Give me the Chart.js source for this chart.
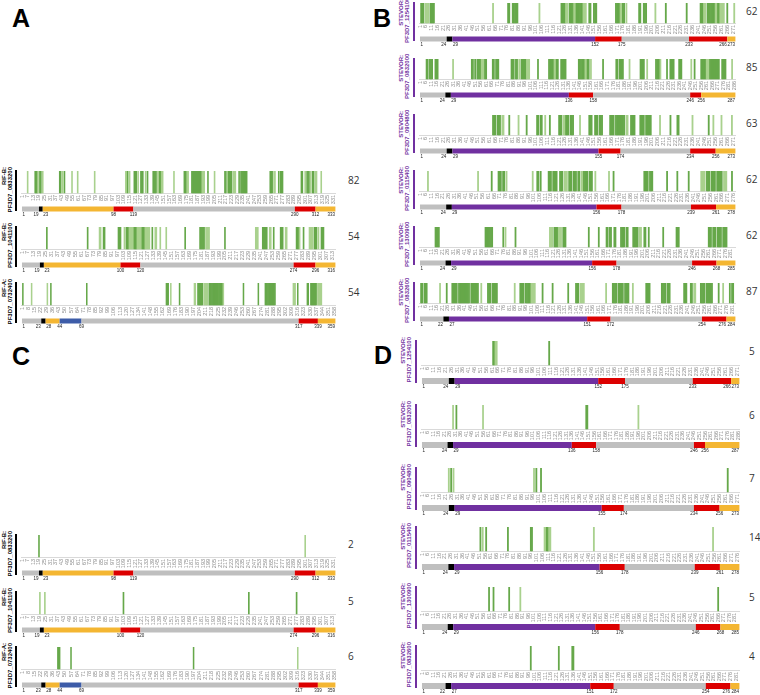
<!DOCTYPE html>
<html>
<head>
<meta charset="utf-8">
<script src="https://cdn.jsdelivr.net/npm/chart.js@4.4.1/dist/chart.umd.min.js"></script>
<style>
  body { margin: 0; width: 760px; height: 695px; position: relative; overflow: hidden; background: #fff; font-family: 'Liberation Sans', Arial, sans-serif; }
  .letter { position: absolute; font: bold 25px/25px 'Liberation Sans', Arial, sans-serif; color: #000; }
  .lab { position: absolute; transform-origin: 0 0; transform: rotate(-90deg); font-weight: bold; font-size: 6px; line-height: 6px; text-align: right; white-space: nowrap; }
  .vline { position: absolute; width: 2px; }
  .count { position: absolute; font: 10px/14px 'Open Sans', sans-serif; color: #333; }
  canvas { position: absolute; }
</style>
</head>
<body>
<div class="letter" style="left:12px;top:6px">A</div>
<div class="letter" style="left:373px;top:6px">B</div>
<div class="letter" style="left:12px;top:344px">C</div>
<div class="letter" style="left:374px;top:343px">D</div>
<script>
// RIFIN proteins (panels A and C)
const rifIds = ['PF3D7_0833200', 'PF3D7_1041100', 'PF3D7_0732400'];
const rifGroups = ['RIF-B:', 'RIF-B:', 'RIF-A:'];
const rifLengths = [333, 316, 359];
const rifTickSteps = [6, 6, 7];
const rifDomains = [
  [1, 19, 23, 98, 119, 290, 312, 333],
  [1, 19, 23, 100, 120, 274, 296, 316],
  [1, 23, 28, 44, 69, 317, 339, 359]
];
const rifDomainKinds = [
  ['none', 'pexel', 'sc', 'tm', 'none', 'tm', 'ct'],
  ['none', 'pexel', 'sc', 'tm', 'none', 'tm', 'ct'],
  ['none', 'pexel', 'sc', 'v1', 'none', 'tm', 'ct']
];

// STEVOR proteins (panels B and D)
const stevorIds = ['PF3D7_1254100', 'PF3D7_0832000', 'PF3D7_0904800', 'PF3D7_0115400', 'PF3D7_1300900', 'PF3D7_0832600'];
const stevorLengths = [273, 287, 273, 278, 285, 284];
const stevorTickStep = 5;
const stevorDomains = [
  [1, 24, 29, 152, 175, 233, 266, 273],
  [1, 24, 29, 136, 158, 246, 256, 287],
  [1, 24, 29, 155, 174, 234, 256, 273],
  [1, 24, 29, 156, 178, 239, 261, 278],
  [1, 24, 29, 156, 178, 246, 268, 285],
  [1, 22, 27, 151, 172, 254, 276, 284]
];
const stevorDomainKinds = ['none', 'pexel', 'var', 'tm', 'none', 'tm', 'ct'];

// numbers printed right of each track
const countsA = [82, 54, 54];
const countsB = [62, 85, 63, 62, 62, 87];
const countsC = [2, 5, 6];
const countsD = [5, 6, 7, 14, 5, 4];

// peptide hits: [first residue, last residue, dark(1)/light(0)]
const peptidesA = [
  [[7,7,0],[15,17,1],[18,18,0],[20,21,1],[23,23,0],[41,42,1],[44,44,0],[46,46,1],[54,54,0],[60,60,0],[78,78,0],
   [111,112,0],[113,113,1],[115,115,0],[120,122,1],[124,124,0],[127,129,1],[132,132,0],[134,134,1],[140,143,1],
   [145,146,0],[147,148,1],[149,150,0],[162,162,0],[173,175,1],[176,177,0],[181,191,1],[192,194,0],[198,198,1],
   [205,205,0],[216,217,1],[219,219,0],[220,223,1],[225,227,0],[231,231,1],[233,239,1],[264,266,1],[268,269,0],
   [273,273,1],[275,277,1],[297,298,1],[301,301,0],[303,305,1],[307,307,0],[309,310,1],[312,313,0],[318,318,0]],
  [[26,26,1],[67,67,1],[79,80,0],[83,84,1],[98,100,1],[104,104,0],[106,108,1],[109,113,0],[114,116,1],[117,121,0],
   [122,124,1],[125,129,0],[132,132,1],[135,136,0],[140,140,0],[146,146,0],[165,165,1],[180,184,1],[186,189,0],
   [205,205,1],[236,238,0],[243,247,1],[250,251,0],[254,254,1],[261,263,1],[266,267,0],[277,279,1],[280,280,0],
   [284,284,1],[290,293,0],[295,297,1],[299,299,0],[302,304,1]],
  [[2,2,1],[12,12,0],[30,30,0],[34,34,1],[75,75,1],[166,168,1],[171,171,0],[181,181,1],[198,199,0],[202,207,1],
   [209,213,0],[215,221,1],[222,230,1],[231,231,0],[254,254,1],[271,271,1],[279,290,1],[311,313,0],[316,316,1],
   [327,328,1],[331,337,1],[339,343,0]]
];
const peptidesC = [
  [[19,19,1],[301,301,0]],
  [[19,19,0],[24,24,0],[103,103,1],[229,229,1],[277,277,1]],
  [[42,44,1],[57,57,1],[197,197,1],[316,316,0]]
];
const peptidesB = [
  [[2,4,1],[6,8,0],[10,13,1],[64,64,0],[77,78,1],[81,85,1],[104,104,0],[123,126,1],[127,128,0],[130,133,1],
   [134,135,0],[136,141,1],[142,144,0],[147,148,1],[151,153,1],[170,173,1],[174,175,0],[176,177,1],[179,179,0],
   [190,191,1],[194,196,1],[204,204,0],[213,213,1],[231,231,1],[243,245,1],[246,247,0],[249,255,1],[256,257,0],
   [258,259,1],[260,263,0],[266,266,1],[272,272,0]],
  [[7,8,1],[10,12,1],[15,17,1],[31,31,0],[48,49,1],[51,51,1],[53,56,1],[57,59,0],[60,61,1],[67,68,1],[70,72,1],
   [84,86,1],[88,89,1],[91,91,0],[93,97,1],[98,100,0],[108,108,1],[118,122,1],[123,124,0],[125,126,1],[129,133,1],
   [145,150,1],[151,152,0],[153,154,1],[156,156,0],[167,167,1],[179,180,1],[182,185,1],[191,191,0],[201,204,1],
   [207,207,0],[215,218,1],[219,219,0],[225,225,1],[228,231,1],[236,238,1],[247,247,0],[250,250,1],[256,260,1],
   [261,263,0],[264,272,1],[275,278,1],[284,284,0]],
  [[64,66,1],[68,70,1],[72,73,0],[78,78,1],[86,86,0],[93,93,1],[102,103,1],[105,106,1],[109,109,0],[113,113,1],
   [121,123,1],[125,126,0],[127,129,1],[131,133,1],[139,139,0],[147,149,1],[152,154,1],[156,158,1],[165,168,1],
   [170,174,1],[175,177,1],[179,180,0],[183,186,1],[191,194,1],[196,200,1],[208,208,0],[217,217,1],[223,224,1],
   [236,236,0],[250,250,1],[254,254,0],[261,261,0],[270,270,0]],
  [[8,8,0],[52,52,0],[64,64,1],[70,72,1],[74,75,1],[77,77,0],[100,100,0],[104,105,1],[107,107,1],[114,116,1],
   [118,121,1],[124,126,1],[128,130,0],[132,134,1],[136,138,1],[140,141,1],[143,144,0],[145,148,1],[150,152,1],
   [155,155,0],[167,167,0],[171,171,1],[198,201,1],[203,205,1],[218,218,1],[227,227,1],[237,237,1],[248,251,0],
   [253,255,1],[257,260,1],[262,266,1],[268,270,0],[275,275,1]],
  [[15,18,1],[60,63,1],[64,66,1],[76,76,1],[78,78,0],[87,87,1],[118,120,0],[122,125,1],[126,128,0],[130,132,1],
   [153,153,1],[162,162,1],[169,170,1],[172,173,1],[176,177,1],[182,185,1],[187,188,1],[193,197,1],[199,200,0],
   [203,204,1],[207,207,1],[220,220,1],[232,234,1],[261,263,1],[265,267,1],[269,272,1],[274,277,1]],
  [[2,3,1],[5,7,1],[19,19,0],[25,25,1],[30,34,1],[36,40,1],[41,45,1],[47,53,1],[56,56,0],[62,64,1],[66,70,1],
   [86,86,0],[91,94,1],[96,100,1],[101,104,0],[111,111,1],[120,120,1],[134,134,1],[141,143,1],[145,148,0],
   [168,168,0],[174,177,1],[179,183,1],[185,188,1],[192,192,0],[204,207,1],[218,221,1],[223,225,1],[238,240,1],
   [244,245,1],[247,248,0],[253,256,1],[258,263,1],[269,269,1],[273,273,0],[279,279,1],[281,282,1]]
];
const peptidesD = [
  [[62,63,1],[64,65,0],[110,110,1]],
  [[29,29,0],[32,32,1],[56,56,0],[149,150,1],[196,196,0]],
  [[24,24,0],[26,26,1],[28,28,0],[97,97,0],[99,99,1],[103,103,1],[263,263,1]],
  [[52,52,1],[54,54,0],[57,57,1],[76,76,1],[96,97,1],[108,109,0],[110,111,1],[112,113,0],[151,151,0],[255,255,0]],
  [[61,61,1],[65,65,1],[79,79,1],[89,89,0],[266,266,1]],
  [[98,98,1],[123,123,1],[135,136,1]]
];

// ---- styles and layout ----
const DARK = '#66a84a';
const LIGHT = '#a9d18e';
const domainColors = { none: '#bfbfbf', pexel: '#000000', sc: '#f4b632', tm: '#dc0000', v1: '#3d5ca8', var: '#7030a0', ct: '#f4b632' };
const panels = {
  A: { left: 20, width: 324, labX: 1, lineX: 15, numX: 348, gh: 22, bar: 5, domY: [209, 265, 321], ink: '#000' },
  C: { left: 20, width: 324, labX: 1, lineX: 15, numX: 348, gh: 22, bar: 5, domY: [573, 630, 685], ink: '#000' },
  B: { left: 418, width: 326, labX: 398, lineX: 413, numX: 746, gh: 20, bar: 5, domY: [39, 95, 151, 207, 263, 319], ink: '#7030a0' },
  D: { left: 420, width: 328, labX: 400, lineX: 415, numX: 749, gh: 24, bar: 6, domY: [381, 445, 508, 567, 627, 686], ink: '#7030a0' }
};

// draws the boundary residue numbers under the domain bar
const domainNumbers = {
  id: 'domainNumbers',
  afterDatasetsDraw(chart) {
    const { ctx } = chart;
    const pts = chart.getDatasetMeta(1).data;
    const ds = chart.data.datasets[1];
    ctx.save();
    ctx.font = '4.5px "Liberation Sans", sans-serif';
    ctx.fillStyle = '#222';
    ctx.textBaseline = 'top';
    pts.forEach((pt, i) => {
      let align = 'center';
      if (i === 0) align = 'left';
      else if (i === pts.length - 1) align = 'right';
      else if (pts[i + 1].x - pt.x < 9) align = 'right';
      else if (pt.x - pts[i - 1].x < 9) align = 'left';
      ctx.textAlign = align;
      const dx = align === 'right' ? -0.5 : align === 'left' ? 0.5 : 0;
      ctx.fillText(ds.data[i].x, pt.x + dx, pt.y + ds.borderWidth / 2 + 1);
    });
    ctx.restore();
  }
};

function addTrack(panelKey, row, group, id, len, step, dom, kinds, peps, count) {
  const p = panels[panelKey];
  const base = p.domY[row] - 16;          // pixel row of the baseline
  const h = p.gh + 16 + 6 + 1 + 8;

  const canvas = document.createElement('canvas');
  canvas.width = p.width;
  canvas.height = h;
  canvas.style.left = p.left + 'px';
  canvas.style.top = (base - p.gh - 1) + 'px';
  document.body.appendChild(canvas);

  // rotated protein label and the bar beside it
  const lab = document.createElement('div');
  lab.className = 'lab';
  lab.style.left = p.labX + 'px';
  lab.style.top = (base + 20) + 'px';
  lab.style.width = (p.gh + 24) + 'px';
  lab.style.color = p.ink;
  lab.innerHTML = group + '<br>' + id;
  document.body.appendChild(lab);

  const line = document.createElement('div');
  line.className = 'vline';
  line.style.left = p.lineX + 'px';
  line.style.top = (base - p.gh - 1) + 'px';
  line.style.height = (p.gh + 19) + 'px';
  line.style.background = p.ink;
  document.body.appendChild(line);

  const num = document.createElement('div');
  num.className = 'count';
  num.style.left = p.numX + 'px';
  num.style.top = (base - p.gh / 2 - 9) + 'px';
  num.textContent = count;
  document.body.appendChild(num);

  // per-residue hits
  const labels = [];
  const hits = [];
  const colors = [];
  for (let r = 1; r <= len; r++) {
    labels.push(String(r));
    hits.push(null);
    colors.push(DARK);
  }
  peps.forEach(([a, b, dark]) => {
    for (let r = a; r <= b; r++) {
      hits[r - 1] = 1;
      colors[r - 1] = dark ? DARK : LIGHT;
    }
  });

  const domY = -16 / p.gh;
  const domPoints = dom.map(r => ({ x: String(r), y: domY }));

  new Chart(canvas.getContext('2d'), {
    data: {
      labels: labels,
      datasets: [
        {
          type: 'bar',
          data: hits,
          backgroundColor: colors,
          borderWidth: 0,
          barPercentage: 1,
          categoryPercentage: 1
        },
        {
          type: 'line',
          data: domPoints,
          borderWidth: p.bar,
          borderCapStyle: 'butt',
          pointRadius: 0,
          fill: false,
          segment: { borderColor: ctx => domainColors[kinds[ctx.p0DataIndex]] }
        }
      ]
    },
    options: {
      responsive: false,
      devicePixelRatio: 1,
      animation: false,
      events: [],
      layout: { padding: { top: 1, bottom: 8, left: 0, right: 0 } },
      plugins: { legend: { display: false }, tooltip: { enabled: false } },
      scales: {
        y: { display: false, min: -(16 + 6) / p.gh, max: 1 },
        x: {
          type: 'category',
          position: { y: 0 },
          grid: { display: false, drawTicks: false },
          border: { display: true, color: '#d9d9d9', width: 1 },
          ticks: {
            autoSkip: false,
            minRotation: 90,
            maxRotation: 90,
            padding: 2,
            color: '#8c8c8c',
            font: { size: 5.5, family: 'Liberation Sans' },
            callback: function (value, index) {
              return index % step === 0 ? this.getLabelForValue(value) : '';
            }
          }
        }
      }
    },
    plugins: [domainNumbers]
  });
}

rifIds.forEach((id, i) => {
  addTrack('A', i, rifGroups[i], id, rifLengths[i], rifTickSteps[i], rifDomains[i], rifDomainKinds[i], peptidesA[i], countsA[i]);
  addTrack('C', i, rifGroups[i], id, rifLengths[i], rifTickSteps[i], rifDomains[i], rifDomainKinds[i], peptidesC[i], countsC[i]);
});
stevorIds.forEach((id, i) => {
  addTrack('B', i, 'STEVOR:', id, stevorLengths[i], stevorTickStep, stevorDomains[i], stevorDomainKinds, peptidesB[i], countsB[i]);
  addTrack('D', i, 'STEVOR:', id, stevorLengths[i], stevorTickStep, stevorDomains[i], stevorDomainKinds, peptidesD[i], countsD[i]);
});
</script>
</body>
</html>
